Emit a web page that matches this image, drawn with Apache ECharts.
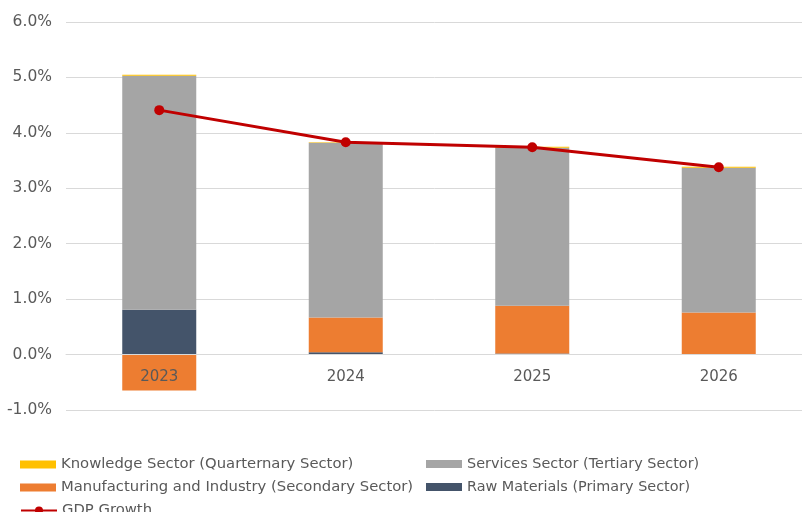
<!DOCTYPE html>
<html>
<head>
<meta charset="utf-8">
<script src="https://cdn.jsdelivr.net/npm/echarts@6/dist/echarts.min.js"></script>
<style>
  html, body { margin: 0; padding: 0; background: #fff; }
  #chart { width: 802px; height: 512px; }
</style>
</head>
<body>
<div id="chart"></div>
<script>
// Contribution to GDP growth by sector, in percentage points
const years = ['2023', '2024', '2025', '2026'];
const rawMaterials = [0.81, 0.04, 0.02, 0.00];
const manufacturing = [-0.65, 0.63, 0.86, 0.76];
const services = [4.22, 3.15, 2.85, 2.61];
const knowledge = [0.02, 0.01, 0.02, 0.02];
const gdpGrowth = [4.41, 3.83, 3.74, 3.38];
const yTicks = [-1, 0, 1, 2, 3, 4, 5, 6];

const NAMES = {
  knowledge: 'Knowledge Sector (Quarternary Sector)',
  services: 'Services Sector (Tertiary Sector)',
  manufacturing: 'Manufacturing and Industry (Secondary Sector)',
  raw: 'Raw Materials (Primary Sector)',
  gdp: 'GDP Growth'
};

const FONT = '"DejaVu Sans", sans-serif';
const TEXT = '#595959';
const GRID_H = 388;
// pixel distance from the bottom of the plot (-1%) up to the zero line
const ZERO_OFFSET = GRID_H * (0 - yTicks[0]) / (yTicks[yTicks.length - 1] - yTicks[0]);

const chart = echarts.init(document.getElementById('chart'), null, { renderer: 'canvas' });

function legendAt(name, left, top, isLine, size) {
  return {
    data: [name],
    left: left,
    top: top,
    padding: 0,
    itemWidth: 36,
    itemHeight: isLine ? 10 : 8,
    itemGap: 0,
    icon: isLine ? undefined : 'rect',
    selectedMode: false,
    textStyle: { color: TEXT, fontFamily: FONT, fontSize: size || 14.8, padding: [0, 0, 0, 0] }
  };
}

const barBase = {
  type: 'bar',
  stack: 'sectors',
  barWidth: 74
};

chart.setOption({
  animation: false,
  backgroundColor: '#fff',
  grid: { left: 66, top: 22, width: 746, height: GRID_H, containLabel: false, outerBoundsMode: 'none' },
  legend: [
    legendAt(NAMES.knowledge, 20, 457),
    legendAt(NAMES.services, 426, 457, false, 14.4),
    legendAt(NAMES.manufacturing, 20, 480),
    legendAt(NAMES.raw, 426, 480, false, 14.4),
    legendAt(NAMES.gdp, 20, 503, true)
  ],
  xAxis: {
    type: 'category',
    data: years,
    offset: -ZERO_OFFSET,
    axisLine: { onZero: false, lineStyle: { color: '#d9d9d9', width: 1 } },
    axisTick: { show: false },
    axisLabel: { color: TEXT, fontFamily: FONT, fontSize: 15, margin: 15 },
    z: 10
  },
  yAxis: {
    type: 'value',
    min: yTicks[0],
    max: yTicks[yTicks.length - 1],
    interval: 1,
    axisLine: { show: false },
    axisTick: { show: false },
    splitLine: { lineStyle: { color: '#d9d9d9', width: 1 } },
    axisLabel: {
      color: TEXT, fontFamily: FONT, fontSize: 15.5, margin: 14,
      formatter: v => v.toFixed(1) + '%'
    }
  },
  series: [
    Object.assign({}, barBase, { name: NAMES.raw, data: rawMaterials, itemStyle: { color: '#44546A' } }),
    Object.assign({}, barBase, { name: NAMES.manufacturing, data: manufacturing, itemStyle: { color: '#ED7D31' } }),
    Object.assign({}, barBase, { name: NAMES.services, data: services, itemStyle: { color: '#A5A5A5' } }),
    Object.assign({}, barBase, { name: NAMES.knowledge, data: knowledge, itemStyle: { color: '#FFC000' } }),
    {
      name: NAMES.gdp,
      type: 'line',
      data: gdpGrowth,
      symbol: 'circle',
      symbolSize: 10,
      itemStyle: { color: '#C00000' },
      lineStyle: { color: '#C00000', width: 3 },
      z: 5
    }
  ]
});
</script>
</body>
</html>
